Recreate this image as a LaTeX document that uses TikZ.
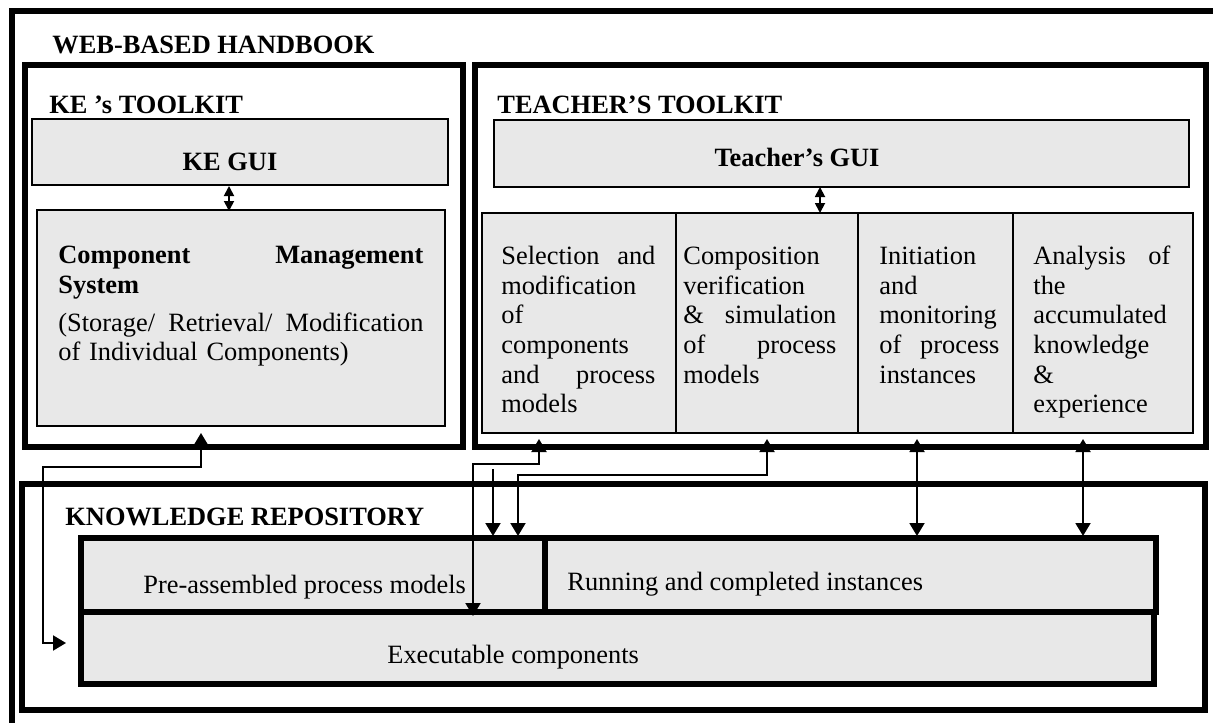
\documentclass[tikz,border=0pt]{standalone}
\usepackage{fontspec}
\setmainfont{Liberation Serif}
\usetikzlibrary{arrows.meta,calc,fit}
\definecolor{boxgray}{RGB}{232,232,232}
\newcommand{\mytxt}{\fontsize{13.2}{14.85}\selectfont}
\tikzset{
  frameline/.style={line width=2.8pt},
  thickbox/.style={draw, line width=2.8pt, inner sep=0pt, outer sep=0pt},
  graythick/.style={draw, line width=2.8pt, fill=boxgray, inner sep=0pt, outer sep=0pt},
  graythin/.style={draw, line width=0.9pt, fill=boxgray, inner sep=0pt, outer sep=0pt},
  titletext/.style={anchor=base west, inner sep=0pt, font=\mytxt\bfseries},
  plaintext/.style={anchor=base west, inner sep=0pt, font=\mytxt},
  blocktext/.style={anchor=north west, inner sep=0pt, align=left, font=\mytxt},
  conn/.style={line width=1pt, >={Triangle[width=7.5pt,length=6.5pt]}},
  smallconn/.style={line width=0.9pt, >={Triangle[width=5pt,length=5pt]}}
}
\begin{document}
\begin{tikzpicture}[x=0.5pt,y=-0.5pt]
\useasboundingbox (0,0) rectangle (1213,722);
% outer frame (cropped at right and bottom)
\draw[frameline] (12,740) -- (12,11) -- (1230,11);
\node[titletext] (web) at (52,54) {WEB-BASED HANDBOOK};

% KE's toolkit
\node[thickbox, fit={(25,65)(463,447)}] (ketk) {};
\node[titletext] (ketitle) at (49,113) {KE ’s TOOLKIT};
\node[graythin, fit={(32,119)(448,185)}] (kegui) {};
\node[titletext, anchor=base] (keguit) at (230,170) {KE GUI};
\node[graythin, fit={(37,210)(445,426)}] (cms) {};
\node[blocktext, text width=182.5pt] (cmst) at (58,242.2) {\strut\textbf{Component\hfill Management}\\ \textbf{System}\\[4.2pt] (Storage/\hfill Retrieval/\hfill Modification\\ of Individual Components)};

% Teacher's toolkit
\node[thickbox, fit={(475,65)(1206,447)}] (ttk) {};
\node[titletext] (ttitle) at (497,113) {TEACHER’S TOOLKIT};
\node[graythin, fit={(494,120)(1189,187)}] (tgui) {};
\node[titletext, anchor=base] (tguit) at (797,166) {Teacher’s GUI};
\node[graythin, fit={(482,213)(676,433)}] (col1) {};
\node[graythin, fit={(676,213)(858,433)}] (col2) {};
\node[graythin, fit={(858,213)(1013,433)}] (col3) {};
\node[graythin, fit={(1013,213)(1193,433)}] (col4) {};
\node[blocktext, text width=77pt] (col1t) at (501,243.2) {\strut Selection\hfill and\\ modification\\ of\\ components\\ and\hfill process\\ models};
\node[blocktext, text width=76.5pt] (col2t) at (683,243.2) {\strut Composition\\ verification\\ \&\hfill simulation\\ of\hfill process\\ models};
\node[blocktext, text width=60pt] (col3t) at (879,243.2) {\strut Initiation\\ and\\ monitoring\\ of\hfill process\\ instances};
\node[blocktext, text width=68.5pt] (col4t) at (1033,243.2) {\strut Analysis\hfill of\\ the\\ accumulated\\ knowledge\\ \&\\ experience};

% Knowledge repository
\node[thickbox, fit={(22,484)(1205,710)}] (kr) {};
\node[titletext] (krtitle) at (65,525) {KNOWLEDGE REPOSITORY};
\node[graythick, fit={(81,612)(1154,684)}] (exe) {};
\node[graythick, fit={(81,538)(545,612)}] (pre) {};
\node[graythick, fit={(545,538)(1156,612)}] (run) {};
\node[plaintext] (pret) at (143,593) {Pre-assembled process models};
\node[plaintext] (runt) at (567,590) {Running and completed instances};
\node[plaintext] (exet) at (387,663) {Executable components};

% small double arrows
\draw[smallconn,<->] ($(kegui.south west)+(197,1)$) -- ($(cms.north west)+(192,1)$);
\draw[smallconn,<->] ($(tgui.south west)+(326,0)$) -- ($(col2.north west)+(144,0)$);

% connectors
\draw[conn,<->] ($(exe.south west)+(-15,-41)$) -| (43,467) -| ($(cms.south west)+(164,7)$);
\draw[conn,<->] ($(col1.south west)+(57,6)$) |- (473,464) -- ($(exe.north west)+(392,4)$);
\coordinate (free) at (493,469);
\draw[conn,->] (free) -- ($(pre.north west)+(412,-2)$);
\draw[conn,<->] ($(col2.south west)+(91,6)$) |- (518,475) -- ($(pre.north west)+(437,-2)$);
\draw[conn,<->] ($(col3.south west)+(59,6)$) -- ($(run.north west)+(372,-2)$);
\draw[conn,<->] ($(col4.south west)+(70,6)$) -- ($(run.north west)+(538,-2)$);
\end{tikzpicture}
\end{document}
